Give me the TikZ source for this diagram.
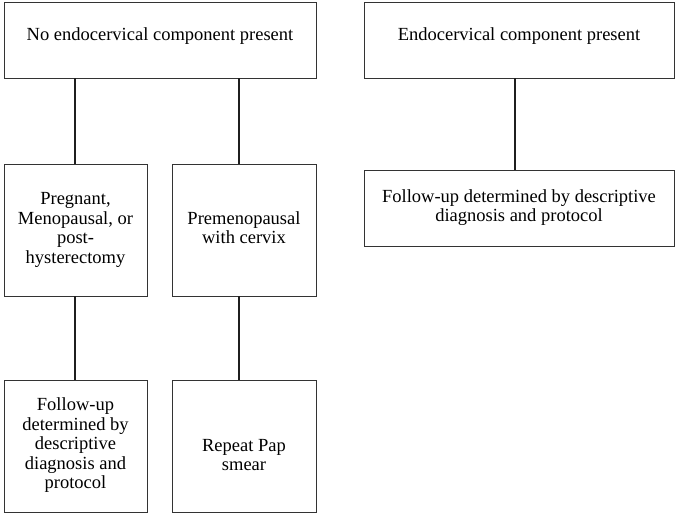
\documentclass[tikz,border=0pt]{standalone}
\usepackage{fontspec}
\setmainfont{Liberation Serif}
\newcommand{\bxt}[2][0pt]{\raisebox{#1}[\height][\depth]{\begin{tabular}{@{}c@{}}#2\end{tabular}}}
\begin{document}
\begin{tikzpicture}[x=1pt,y=-1pt,
  box/.style={draw=black!80, line width=0.8pt, inner sep=0pt,
    font=\fontsize{18.5}{19.5}\selectfont},
  link/.style={draw=black!88, line width=2pt}]
\useasboundingbox (0,0) rectangle (675,514);
\node[box, minimum width=312pt, minimum height=76pt] (a) at (160,40) {\bxt[3pt]{No endocervical component present}};
\node[box, minimum width=143pt, minimum height=132pt] (b) at (75.5,230) {\bxt{Pregnant,\\Menopausal, or\\post-\\hysterectomy}};
\node[box, minimum width=144pt, minimum height=132pt] (c) at (244,230) {\bxt{Premenopausal\\with cervix}};
\node[box, minimum width=143pt, minimum height=132pt] (d) at (75.5,446) {\bxt{Follow-up\\determined by\\descriptive\\diagnosis and\\protocol}};
\node[box, minimum width=144pt, minimum height=132pt] (e) at (244,446) {\bxt[-11pt]{Repeat Pap\\smear}};
\node[box, minimum width=310pt, minimum height=76pt] (f) at (519,40) {\bxt[3pt]{Endocervical component present}};
\node[box, minimum width=310pt, minimum height=76pt] (g) at (519,208) {\bxt{Follow-up determined by descriptive\\diagnosis and protocol}};
\draw[link] ([xshift=-0.5pt]b.north) -- ([xshift=-0.5pt]b.north |- a.south);
\draw[link] ([xshift=-5pt]c.north) -- ([xshift=-5pt]c.north |- a.south);
\draw[link] ([xshift=-0.5pt]d.north) -- ([xshift=-0.5pt]d.north |- b.south);
\draw[link] ([xshift=-5pt]e.north) -- ([xshift=-5pt]e.north |- c.south);
\draw[link] ([xshift=-4pt]g.north) -- ([xshift=-4pt]g.north |- f.south);
\end{tikzpicture}
\end{document}
